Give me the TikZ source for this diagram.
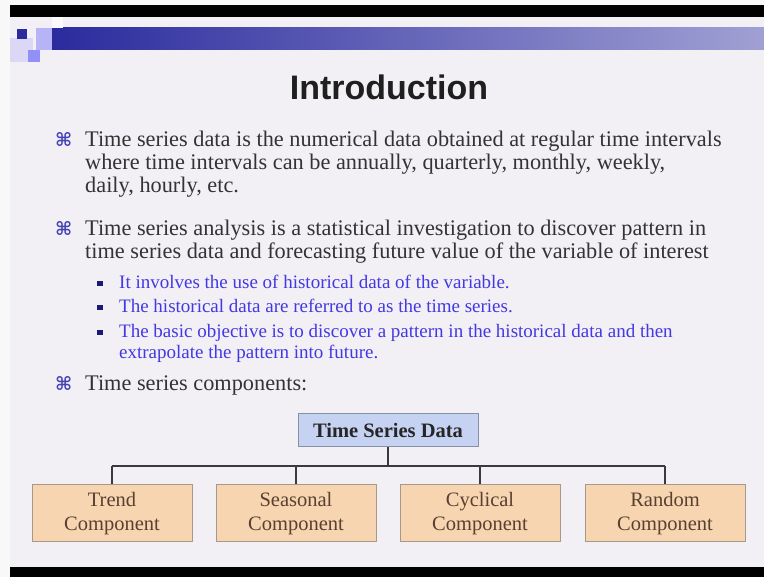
\documentclass[tikz,border=0pt]{standalone}
\usepackage{fontspec}
\setmainfont{Liberation Serif}
\newfontfamily\headfont{Liberation Sans}
\newfontfamily\symfont{DejaVu Sans}
\usetikzlibrary{positioning}

\definecolor{slidebg}{HTML}{F2F0F4}
\definecolor{edgebg}{HTML}{F8F8F8}
\definecolor{bodytext}{HTML}{333333}
\definecolor{subtext}{HTML}{4238E4}
\definecolor{keyblue}{HTML}{4444B4}
\definecolor{navy}{HTML}{1A1A6E}
\definecolor{barleft}{HTML}{2B2B9E}
\definecolor{barright}{HTML}{A0A0D4}
\definecolor{peach}{HTML}{F6D5B0}
\definecolor{peachline}{HTML}{A8988A}
\definecolor{paleblue}{HTML}{C6D2F2}
\definecolor{palebluel}{HTML}{8890A8}
\definecolor{boxtext}{HTML}{5A4030}
\definecolor{linkgray}{HTML}{3A3A3A}

\tikzset{
  line/.style={anchor=base west, inner sep=0pt, text=bodytext,
    font=\fontsize{22.3}{23}\selectfont},
  subline/.style={anchor=base west, inner sep=0pt, text=subtext,
    font=\fontsize{19}{20}\selectfont},
  keymark/.style={anchor=base west, inner sep=0pt, text=keyblue,
    font=\symfont\bfseries\fontsize{18.5}{19}\selectfont},
  subsq/.style={fill=navy, minimum size=5.5pt, inner sep=0pt},
  rootbox/.style={draw=palebluel, fill=paleblue, line width=1pt,
    minimum width=180pt, minimum height=33pt, inner sep=0pt,
    font=\bfseries\fontsize{20.5}{22}\selectfont, text=black!85},
  compbox/.style={draw=peachline, fill=peach, line width=1pt,
    minimum width=160pt, minimum height=57pt, inner sep=0pt, align=center,
    font=\fontsize{20.5}{24}\selectfont, text=boxtext},
  link/.style={draw=linkgray, line width=1.3pt},
  spine/.style={draw=linkgray, line width=2pt}
}

\begin{document}
\begin{tikzpicture}[x=1pt,y=-1pt]
  % page frame
  \useasboundingbox (0,0) rectangle (764,577);
  \fill[edgebg] (0,0) rectangle (764,577);
  \fill[slidebg] (10,17) rectangle (764,567);
  \fill[black] (10,5) rectangle (764,17);
  \fill[black] (10,567) rectangle (764,577);

  % header decoration
  \shade[left color=barleft, right color=barright] (52,28) rectangle (764,50);
  \fill[white!60!slidebg] (52,17) rectangle (63,28);
  \fill[blue!25!slidebg] (36,28) rectangle (52,50);
  \fill[blue!10!slidebg] (10,38) rectangle (33,62);
  \fill[blue!40!slidebg] (28,50) rectangle (40,62);
  \fill[barleft] (17,29) rectangle (27,39);

  % title
  \node[anchor=base, inner sep=0pt, text=black!88,
        font=\headfont\bfseries\fontsize{34}{36}\selectfont] (title) at (389,100) {Introduction};

  % first point
  \node[keymark] (k1) at (55,147) {⌘};
  \node[line] (p1a) at (85,147) {Time series data is the numerical data obtained at regular time intervals};
  \node[line] (p1b) at (85,170) {where time intervals can be annually, quarterly, monthly, weekly,};
  \node[line] (p1c) at (85,193) {daily, hourly, etc.};

  % second point
  \node[keymark] (k2) at (55,236) {⌘};
  \node[line] (p2a) at (85,236) {Time series analysis is a statistical investigation to discover pattern in};
  \node[line] (p2b) at (85,259) {time series data and forecasting future value of the variable of interest};

  \node[subsq] (s1) at (100,283.5) {};
  \node[subline] (q1) at (119,289) {It involves the use of historical data of the variable.};
  \node[subsq] (s2) at (100,307.5) {};
  \node[subline] (q2) at (119,313) {The historical data are referred to as the time series.};
  \node[subsq] (s3) at (100,332.5) {};
  \node[subline] (q3a) at (119,338) {The basic objective is to discover a pattern in the historical data and then};
  \node[subline] (q3b) at (119,359) {extrapolate the pattern into future.};

  % third point
  \node[keymark] (k3) at (55,391) {⌘};
  \node[line] (p3) at (85,391) {Time series components:};

  % component tree
  \node[rootbox] (root) at (388,430.5) {Time Series Data};
  \node[compbox] (trend)    at (112,513.5) {Trend\\Component};
  \node[compbox] (seasonal) at (296,513.5) {Seasonal\\Component};
  \node[compbox] (cyclical) at (480,513.5) {Cyclical\\Component};
  \node[compbox] (random)   at (665,513.5) {Random\\Component};

  \coordinate (hub) at (388,466);
  \draw[link] (root.south) -- (hub);
  \draw[spine] (trend.north |- hub) -- (random.north |- hub);
  \foreach \c in {trend,seasonal,cyclical,random}
    \draw[link] (\c.north |- hub) -- (\c.north);
\end{tikzpicture}
\end{document}
